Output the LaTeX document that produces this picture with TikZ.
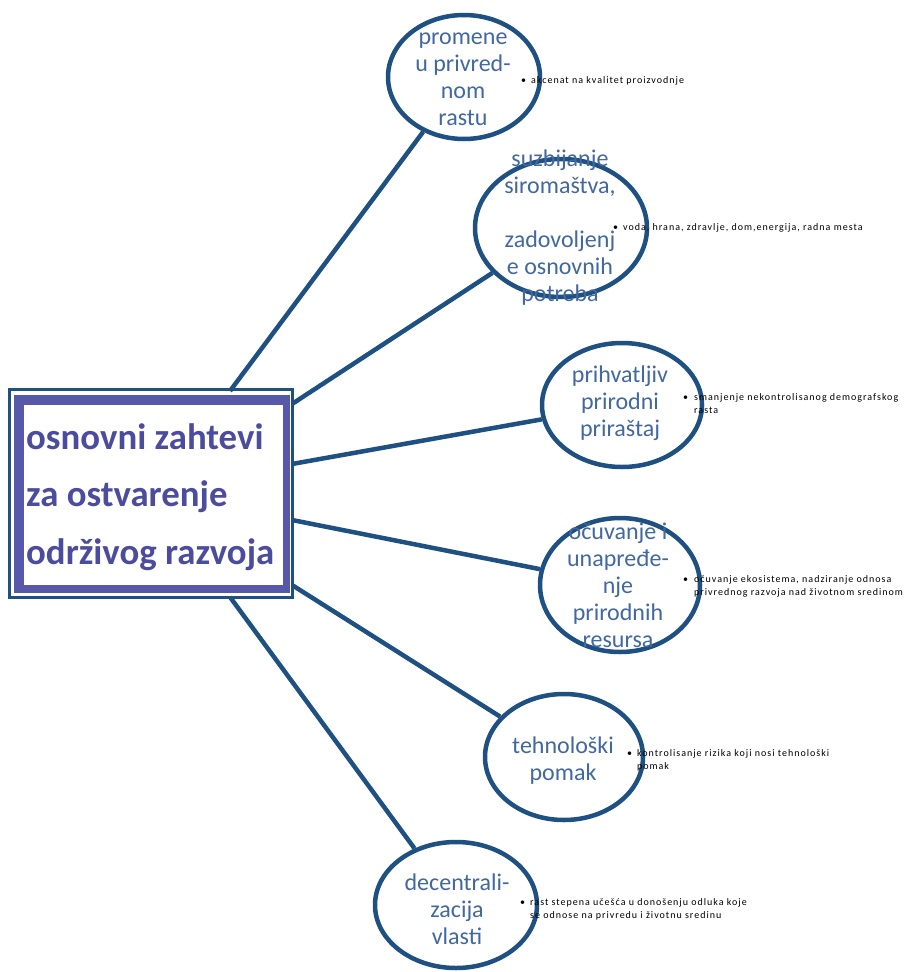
\documentclass[tikz,border=0pt]{standalone}
\usepackage{fontspec}
\setmainfont{Carlito}
\newfontfamily\smallfont[LetterSpace=10]{Carlito}
\usetikzlibrary{shapes.geometric}
\definecolor{edge}{RGB}{31,80,130}
\definecolor{etext}{RGB}{66,104,160}
\definecolor{band}{RGB}{88,88,170}
\definecolor{btext}{RGB}{76,76,158}
\newcommand\bul[2]{\makebox[#1][l]{\textbullet}\begin{tabular}[t]{@{}l@{}}#2\end{tabular}}
\begin{document}
\begin{tikzpicture}[x=1pt,y=-1pt,
  bubble/.style={ellipse,draw=edge,line width=4.5pt,fill=white,inner sep=0pt},
  btxt/.style={text=etext,align=center,font=\fontsize{24}{27}\selectfont,inner sep=0pt},
  conn/.style={draw=edge,line width=4.5pt},
  note/.style={anchor=base west,inner sep=0pt,font=\smallfont\fontsize{10}{14}\selectfont}
]
\useasboundingbox (0,0) rectangle (907,972);
% central box
\node[draw=edge,line width=3pt,minimum width=283pt,minimum height=208pt,inner sep=0pt] (box) at (151,493.5) {};
\node[fill=band,minimum width=276pt,minimum height=198pt,inner sep=0pt] (band) at (152,494) {};
\node[fill=white,minimum width=259pt,minimum height=180pt,inner sep=0pt] (inner) at (153.5,495) {};
\node[anchor=west,align=left,text=btext,inner sep=0pt,font=\bfseries\fontsize{36.8}{57.5}\selectfont] (title) at (26,497) {osnovni zahtevi\\za ostvarenje\\održivog razvoja};
% connector starts
\coordinate (s1) at (230,391);
\coordinate (s2) at (292,404);
\coordinate (s3) at (292,464);
\coordinate (s4) at (292,520);
\coordinate (s5) at (292,585);
\coordinate (s6) at (230,597);
% bubbles
\node[bubble,minimum width=152pt,minimum height=124pt] (e1) at (464,77) {};
\node[bubble,minimum width=172pt,minimum height=138pt] (e2) at (561,228) {};
\node[bubble,minimum width=160pt,minimum height=124pt] (e3) at (622,405) {};
\node[bubble,minimum width=160pt,minimum height=134pt] (e4) at (620,585) {};
\node[bubble,minimum width=158pt,minimum height=126pt] (e5) at (564,757) {};
\node[bubble,minimum width=162pt,minimum height=126pt] (e6) at (456,905) {};
\draw[conn] (s1) -- (e1);
\draw[conn] (s2) -- (e2);
\draw[conn] (s3) -- (e3);
\draw[conn] (s4) -- (e4);
\draw[conn] (s5) -- (e5);
\draw[conn] (s6) -- (e6);
% bubble texts
\node[btxt] (t1) at (463,79) {promene\\u privred-\\nom\\rastu};
\node[btxt] (t2) at (560,228) {suzbijanje\\siromaštva,\\[0pt] \\zadovoljenj\\e osnovnih\\potreba};
\node[btxt] (t3) at (620,403) {prihvatljiv\\prirodni\\priraštaj};
\node[btxt] (t4) at (618,585) {očuvanje i\\unapređe-\\nje\\prirodnih\\resursa};
\node[btxt] (t5) at (563,761) {tehnološki\\pomak};
\node[btxt] (t6) at (457,909) {decentrali-\\zacija\\vlasti};
% notes
\node[note] (n1) at (521,83) {\bul{10pt}{akcenat na kvalitet proizvodnje}};
\node[note] (n2) at (613,230) {\bul{10pt}{voda, hrana, zdravlje, dom,energija,  radna mesta}};
\node[note] (n3) at (683,400) {\bul{11pt}{smanjenje  nekontrolisanog  demografskog\\[-1pt] rasta}};
\node[note] (n4) at (683,582) {\bul{11pt}{očuvanje ekosistema, nadziranje odnosa\\[-1pt] privrednog razvoja nad životnom sredinom}};
\node[note] (n5) at (627,756) {\bul{10pt}{kontrolisanje  rizika koji nosi tehnološki\\[-1pt] pomak}};
\node[note] (n6) at (520,905) {\bul{10pt}{rast stepena učešća u donošenju odluka koje\\[-1pt] se odnose na privredu i životnu sredinu}};
\end{tikzpicture}
\end{document}
